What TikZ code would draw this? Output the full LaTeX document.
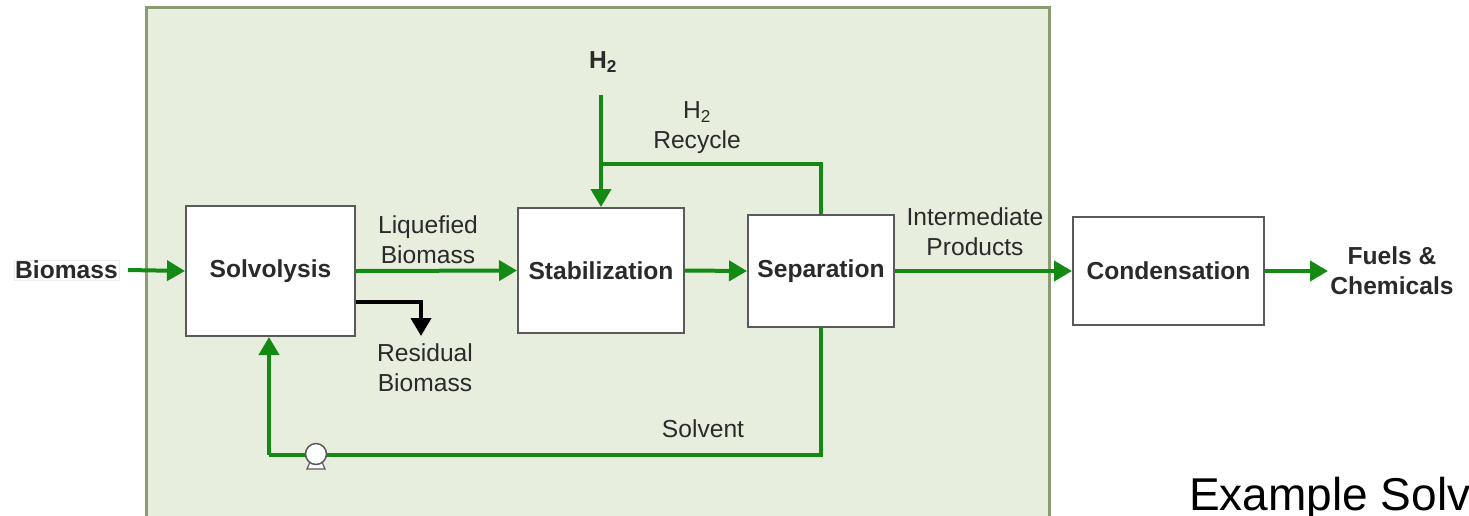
\documentclass[tikz,border=0pt]{standalone}
\usepackage{fontspec}
\setmainfont{Liberation Sans}
\usetikzlibrary{arrows.meta,calc}
\definecolor{bgfill}{HTML}{E8EEDD}
\definecolor{bgline}{HTML}{8C9C72}
\definecolor{flow}{HTML}{138A13}
\definecolor{boxline}{HTML}{5A5A5A}
\definecolor{txt}{HTML}{2A2A2A}
\tikzset{
  procbox/.style={draw=boxline,line width=2pt,fill=white,font=\fontsize{24.6}{29}\selectfont\bfseries,text=txt},
  lbl/.style={font=\fontsize{24.6}{30}\selectfont,text=txt,align=center,inner sep=0pt},
  blbl/.style={font=\fontsize{24.6}{30}\selectfont\bfseries,text=txt,align=center},
  gline/.style={draw=flow,line width=4pt},
  garrow/.style={gline,-{Triangle[length=18pt,width=20pt]}},
  karrow/.style={draw=black,line width=4pt,-{Triangle[length=18pt,width=20pt]}}
}
\begin{document}
\begin{tikzpicture}[x=1pt,y=-1pt]
\useasboundingbox (0,0) rectangle (1469,515);
\clip (0,0) rectangle (1469,515);
\fill[white] (0,0) rectangle (1469,515);
\draw[fill=bgfill,draw=bgline,line width=3pt] (146,7) rectangle (1049,540);

\node[procbox,minimum width=169pt,minimum height=130pt] (solv) at (270.5,271) {Solvolysis};
\node[procbox,minimum width=166pt,minimum height=125pt] (stab) at (601,270.5) {Stabilization};
\node[procbox,minimum width=146pt,minimum height=112pt] (sep) at (821,271) {Separation};
\node[procbox,minimum width=191pt,minimum height=108pt] (cond) at (1168.5,271) {Condensation};

\node[blbl,draw=gray!15,inner sep=1pt] (bio) at (66.5,270) {Biomass};
\node[blbl] (fuels) at (1392,271) {Fuels \&\\Chemicals};
\node[blbl] (h2) at (603,62) {H\textsubscript{2}};

\node[lbl] (liq) at (428,240) {Liquefied\\Biomass};
\node[lbl] (inter) at (975,232) {Intermediate\\Products};
\node[lbl] (recl) at (697,128) {H\textsubscript{2}\\Recycle};
\node[lbl] (rlabel) at (425,368) {Residual\\Biomass};
\node[lbl] (solvl) at (703,429) {Solvent};

\coordinate (h2s) at (601,95);
\coordinate (rec) at (601,164);
\coordinate (rtip) at (421,336);
\coordinate (lowL) at (269,455);
\coordinate (fuelsin) at (1328,271);

% main flow
\draw[garrow] ([xshift=9pt]bio.east) -- (solv.west);
\draw[garrow] (solv.east) -- (stab.west);
\draw[garrow] (stab.east) -- (sep.west);
\draw[garrow] (sep.east) -- (cond.west);
\draw[garrow] (cond.east) -- (fuelsin);

% hydrogen
\draw[garrow] (h2s) -- (h2s |- stab.north);
\draw[gline] (sep.north) |- (rec);

% residual biomass
\draw[karrow] ([yshift=-31pt]solv.east) -| (rtip);

% solvent recycle
\draw[gline] (sep.south) |- (lowL);
\draw[garrow] (lowL) -- (lowL |- solv.south);

% pump
\coordinate (pump) at (316,454);
\draw[boxline,fill=white,line width=1.2pt] ($(pump)+(-6,8)$) -- ($(pump)+(6,8)$) -- ($(pump)+(9,15)$) -- ($(pump)+(-9,15)$) -- cycle;
\draw[boxline,fill=white,line width=1.5pt] (pump) circle (10.5pt);

\node[font=\fontsize{46}{48}\selectfont,anchor=base west,inner sep=0pt,text=black] (ex) at (1189,510) {Example Solv};
\end{tikzpicture}
\end{document}
